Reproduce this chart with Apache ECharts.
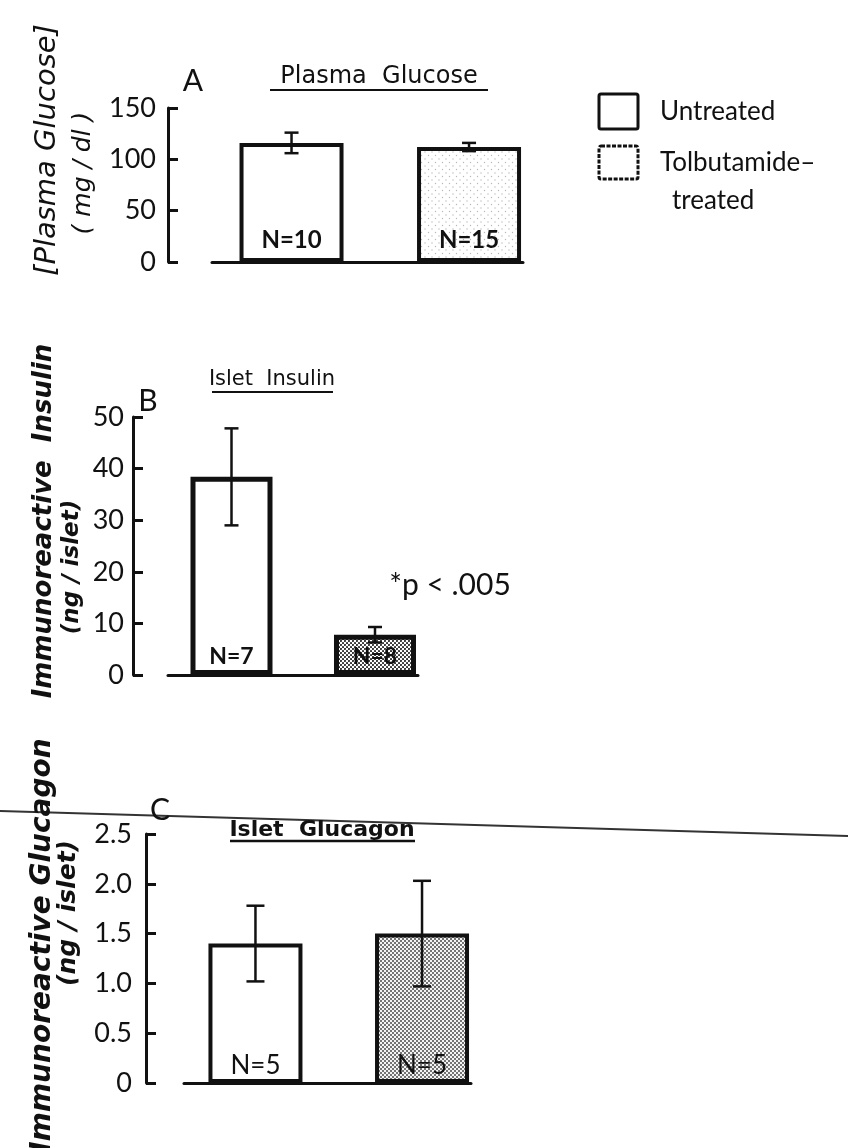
<!DOCTYPE html>
<html>
<head>
<meta charset="utf-8">
<script src="https://cdn.jsdelivr.net/npm/echarts@6/dist/echarts.min.js"></script>
<style>
  html, body { margin: 0; padding: 0; background: #ffffff; }
  #chart { width: 848px; height: 1148px; }
</style>
</head>
<body>
<div id="chart"></div>
<script>
// ---------- data ----------
const categories = ['Untreated', 'Tolbutamide-treated'];

const glucoseMean = [116, 112];
const glucoseErr = [10, 4];
const glucoseN = [10, 15];
const glucoseTicks = ['0', '50', '100', '150'];

const insulinMean = [38.4, 7.8];
const insulinErr = [9.4, 1.5];
const insulinN = [7, 8];
const insulinTicks = ['0', '10', '20', '30', '40', '50'];

const glucagonMean = [1.4, 1.5];
const glucagonErr = [0.38, 0.53];
const glucagonN = [5, 5];
const glucagonTicks = ['0', '0.5', '1.0', '1.5', '2.0', '2.5'];

// ---------- helpers ----------
function makePattern(size, dots, bg, fg, r) {
  const c = document.createElement('canvas');
  c.width = size; c.height = size;
  const ctx = c.getContext('2d');
  ctx.fillStyle = bg; ctx.fillRect(0, 0, size, size);
  ctx.fillStyle = fg;
  dots.forEach(d => { ctx.beginPath(); ctx.arc(d[0], d[1], r, 0, Math.PI * 2); ctx.fill(); });
  return c;
}
const lightPat = makePattern(7, [[1.5, 1.5], [5, 5]], '#ffffff', '#b8b8b8', 0.7);
const darkPat = makePattern(4, [[1, 1], [3, 3]], '#ffffff', '#2a2a2a', 1.05);
const midPat = makePattern(4, [[1, 1], [3, 3]], '#f4f4f4', '#4a4a4a', 1.0);

const FONT = 'Lato, "DejaVu Sans", sans-serif';
const WIDE = '"DejaVu Sans", Lato, sans-serif';
const INK = '#111111';

const panels = [
  { mean: glucoseMean, err: glucoseErr, n: glucoseN, ticks: glucoseTicks,
    min: 0, max: 150, interval: 50,
    grid: { left: 212, top: 108, width: 311, height: 154 }, yOffset: 44,
    xMin: -0.448, xMax: 1.304, barWidth: 104, border: 4, cap: 7,
    fills: ['#ffffff', { image: lightPat, repeat: 'repeat' }],
    labelSize: 24, labelDist: 10, labelWeight: 'bold', tickMargin: 12 },
  { mean: insulinMean, err: insulinErr, n: insulinN, ticks: insulinTicks,
    min: 0, max: 50, interval: 10,
    grid: { left: 168, top: 417, width: 250, height: 258 }, yOffset: 35,
    xMin: -0.4425, xMax: 1.2997, barWidth: 82, border: 5, cap: 7,
    fills: ['#ffffff', { image: darkPat, repeat: 'repeat' }],
    labelSize: 23, labelDist: 7, labelWeight: 'bold', tickMargin: 9 },
  { mean: glucagonMean, err: glucagonErr, n: glucagonN, ticks: glucagonTicks,
    min: 0, max: 2.5, interval: 0.5,
    grid: { left: 184, top: 834, width: 287, height: 249 }, yOffset: 38,
    xMin: -0.429, xMax: 1.294, barWidth: 94, border: 4, cap: 9,
    fills: ['#ffffff', { image: midPat, repeat: 'repeat' }],
    labelSize: 26, labelDist: 4, labelWeight: 'normal', tickMargin: 14 }
];

const grid = [], xAxis = [], yAxis = [], series = [];
panels.forEach((p, k) => {
  grid.push(Object.assign({ containLabel: false }, p.grid));
  xAxis.push({
    type: 'value', gridIndex: k, min: p.xMin, max: p.xMax,
    axisLine: { show: true, onZero: false, lineStyle: { color: INK, width: 3 } },
    axisTick: { show: false }, axisLabel: { show: false }, splitLine: { show: false }
  });
  yAxis.push({
    type: 'value', gridIndex: k, min: p.min, max: p.max, interval: p.interval,
    position: 'left', offset: p.yOffset,
    axisLine: { show: true, onZero: false, lineStyle: { color: INK, width: 3 } },
    axisTick: { show: true, inside: true, length: 10, lineStyle: { color: INK, width: 3 } },
    axisLabel: {
      show: true, margin: p.tickMargin, color: INK, fontSize: 27, fontFamily: FONT,
      formatter: (v) => p.ticks[Math.round((v - p.min) / p.interval)]
    },
    splitLine: { show: false }
  });
  series.push({
    type: 'bar', xAxisIndex: k, yAxisIndex: k, barWidth: p.barWidth,
    name: 'bars' + k,
    data: p.mean.map((m, i) => ({
      name: categories[i],
      value: [i, m],
      itemStyle: { color: p.fills[i], borderColor: INK, borderWidth: p.border }
    })),
    label: {
      show: true, position: 'insideBottom', distance: p.labelDist,
      fontSize: p.labelSize, fontWeight: p.labelWeight, fontFamily: FONT, color: INK,
      formatter: (params) => 'N=' + p.n[params.dataIndex]
    },
    silent: true, z: 2
  });
  series.push({
    type: 'custom', xAxisIndex: k, yAxisIndex: k, name: 'err' + k,
    data: p.mean.map((m, i) => [i, m, p.err[i]]),
    encode: { x: 0, y: 1 },
    renderItem: (params, api) => {
      const x = api.value(0), m = api.value(1), e = api.value(2);
      const t = api.coord([x, m + e]);
      const b = api.coord([x, m - e]);
      const st = { stroke: INK, lineWidth: 2.5 };
      return {
        type: 'group',
        children: [
          { type: 'line', shape: { x1: t[0], y1: t[1], x2: b[0], y2: b[1] }, style: st },
          { type: 'line', shape: { x1: t[0] - p.cap, y1: t[1], x2: t[0] + p.cap, y2: t[1] }, style: st },
          { type: 'line', shape: { x1: b[0] - p.cap, y1: b[1], x2: b[0] + p.cap, y2: b[1] }, style: st }
        ]
      };
    },
    silent: true, z: 5
  });
});

function txt(x, y, text, size, opts) {
  opts = opts || {};
  return {
    type: 'text', x: x, y: y, rotation: opts.rot || 0, silent: true, z: 10,
    style: {
      text: text, fill: INK, fontSize: size, fontFamily: opts.font || FONT,
      fontStyle: opts.italic ? 'italic' : 'normal',
      fontWeight: opts.weight || 'normal',
      textAlign: opts.align || 'center', textVerticalAlign: 'middle'
    }
  };
}
function ln(x1, y1, x2, y2, w, extra) {
  return Object.assign({
    type: 'line', silent: true, z: 1,
    shape: { x1: x1, y1: y1, x2: x2, y2: y2 },
    style: { stroke: INK, lineWidth: w }
  }, extra || {});
}
const R = Math.PI / 2;

const graphic = [
  // scan artifact line across panel C
  ln(0, 811, 848, 836, 2, { style: { stroke: '#333', lineWidth: 2 }, z: 0 }),
  // panel letters
  txt(193, 81, 'A', 30),
  txt(148, 401, 'B', 30),
  txt(160, 810, 'C', 30),
  // panel titles (underlined)
  txt(379, 77, 'Plasma  Glucose', 24, { font: WIDE }),
  ln(270, 90, 488, 90, 2),
  txt(272, 380, 'Islet  Insulin', 21, { font: WIDE, weight: 500 }),
  ln(212, 392, 333, 392, 2),
  txt(322, 830, 'Islet  Glucagon', 22, { font: WIDE, weight: 'bold' }),
  ln(230, 841, 415, 841, 2.5),
  // y-axis titles
  txt(47, 150, '[Plasma Glucose]', 29, { italic: true, rot: R, font: WIDE }),
  txt(83, 173, '( mg / dl )', 25, { italic: true, rot: R, font: WIDE }),
  txt(44, 521, 'Immunoreactive  Insulin', 26, { italic: true, weight: 'bold', rot: R, font: WIDE }),
  txt(72, 567, '(ng / islet)', 23, { italic: true, weight: 'bold', rot: R, font: WIDE }),
  txt(43, 945, 'Immunoreactive Glucagon', 28, { italic: true, weight: 'bold', rot: R, font: WIDE }),
  txt(68, 913, '(ng / islet)', 25, { italic: true, weight: 'bold', rot: R, font: WIDE }),
  // significance note
  txt(450, 585, '*p < .005', 30),
  // legend
  { type: 'rect', silent: true, z: 10, shape: { x: 599, y: 94, width: 39, height: 35, r: 2 },
    style: { fill: '#fff', stroke: INK, lineWidth: 3 } },
  { type: 'rect', silent: true, z: 10, shape: { x: 599, y: 146, width: 39, height: 33, r: 2 },
    style: { fill: '#fff', stroke: INK, lineWidth: 3, lineDash: [4, 1.5] } },
  txt(660, 112, categories[0], 26, { align: 'left' }),
  txt(660, 163, 'Tolbutamide–', 26, { align: 'left' }),
  txt(672, 201, 'treated', 26, { align: 'left' })
];

const chart = echarts.init(document.getElementById('chart'), null, { renderer: 'canvas' });
chart.setOption({
  backgroundColor: '#ffffff',
  animation: false,
  grid: grid,
  xAxis: xAxis,
  yAxis: yAxis,
  series: series,
  graphic: graphic
});
</script>
</body>
</html>
